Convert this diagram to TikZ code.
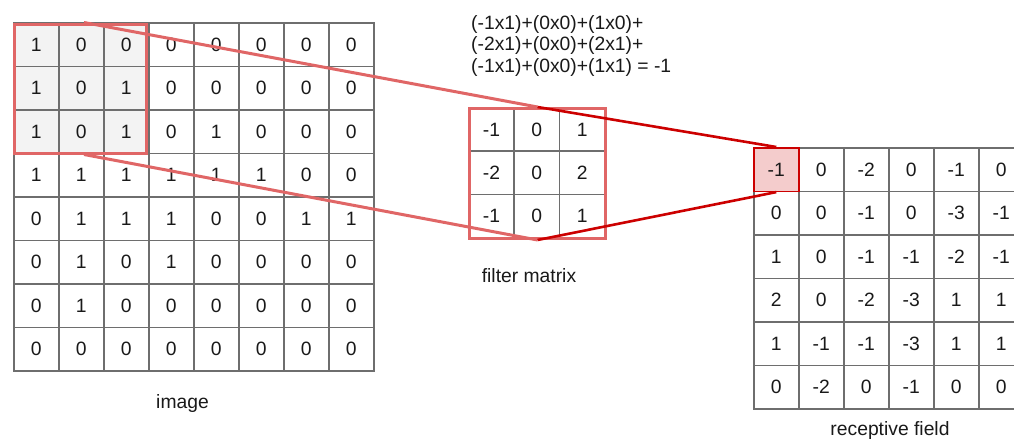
\documentclass[tikz,border=0pt]{standalone}
\usepackage{fontspec}
\setmainfont{Liberation Sans}
\definecolor{gridc}{RGB}{110,110,110}
\definecolor{lred}{RGB}{224,102,102}
\definecolor{dred}{RGB}{204,0,0}
\definecolor{hlfill}{RGB}{244,204,204}
\definecolor{winfill}{RGB}{243,243,243}
\begin{document}
\begin{tikzpicture}[x=1pt,y=-1pt,
  every node/.style={font=\fontsize{19.3}{22}\selectfont, inner sep=0pt, text=black!90},
  cellA/.style={draw=gridc, line width=1.6pt, minimum width=45pt, minimum height=43.5pt, anchor=north west},
  cellF/.style={draw=gridc, line width=1.6pt, minimum width=45.33pt, minimum height=43.33pt, anchor=north west},
  lredline/.style={draw=lred, line width=3pt},
  dredline/.style={draw=dred, line width=2.6pt},
  lbl/.style={anchor=base}]
\path[use as bounding box] (0,0) rectangle (1014,439);
\clip (0,0) rectangle (1014,439);
% background fills
\fill[winfill] (13,22) rectangle (148,152.5);
\fill[hlfill] (753,147) rectangle (798,190.5);
% image grid
\foreach \row [count=\r] in {{1,0,0,0,0,0,0,0},{1,0,1,0,0,0,0,0},{1,0,1,0,1,0,0,0},{1,1,1,1,1,1,0,0},{0,1,1,1,0,0,1,1},{0,1,0,1,0,0,0,0},{0,1,0,0,0,0,0,0},{0,0,0,0,0,0,0,0}}
  \foreach \v [count=\c] in \row
    \node[cellA] (img-\r-\c) at ({13+45*(\c-1)},{22+43.5*(\r-1)}) {\v};
% receptive field grid
\foreach \row [count=\r] in {{-1,0,-2,0,-1,0},{0,0,-1,0,-3,-1},{1,0,-1,-1,-2,-1},{2,0,-2,-3,1,1},{1,-1,-1,-3,1,1},{0,-2,0,-1,0,0}}
  \foreach \v [count=\c] in \row
    \node[cellA] (rf-\r-\c) at ({753+45*(\c-1)},{147+43.5*(\r-1)}) {\v};
% filter grid
\foreach \row [count=\r] in {{-1,0,1},{-2,0,2},{-1,0,1}}
  \foreach \v [count=\c] in \row
    \node[cellF] (flt-\r-\c) at ({468+45.33*(\c-1)},{107+43.33*(\r-1)}) {\v};
% window box and filter box
\node[draw=lred, line width=3pt, minimum width=132pt, minimum height=129pt, anchor=north west] (win) at (12.5,22.5) {};
\node[draw=lred, line width=3pt, minimum width=136pt, minimum height=130pt, anchor=north west] (filt) at (468,107) {};
% highlighted output cell
\node[draw=dred, line width=1.6pt, minimum width=45pt, minimum height=43.5pt] (hl) at (rf-1-1.center) {};
% connectors
\draw[lredline] ([xshift=4pt]win.north) -- (filt.north);
\draw[lredline] ([xshift=4pt]win.south) -- (filt.south);
\draw[dredline] (filt.north) -- (hl.north);
\draw[dredline] (filt.south) -- (hl.south);
% formula
\node[anchor=base west] (f1) at (471,29) {(-1x1)+(0x0)+(1x0)+};
\node[anchor=base west] (f2) at (471,50.5) {(-2x1)+(0x0)+(2x1)+};
\node[anchor=base west] (f3) at (471,72) {(-1x1)+(0x0)+(1x1) = -1};
% labels
\node[lbl] (limg) at (182.5,408) {image};
\node[lbl] (lflt) at (529,282) {filter matrix};
\node[lbl] (lrf) at (890,435) {receptive field};
\end{tikzpicture}
\end{document}
